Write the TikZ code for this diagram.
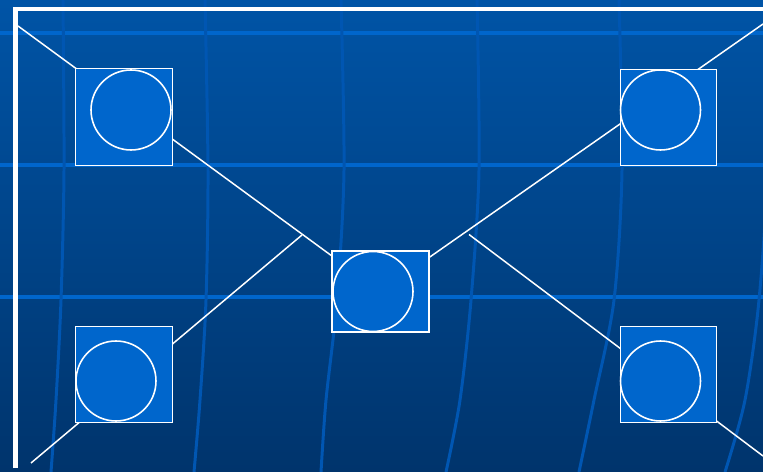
\documentclass[tikz,border=0pt]{standalone}
\definecolor{bgtop}{RGB}{0,84,166}
\definecolor{bgbot}{RGB}{0,52,108}
\definecolor{gridblue}{RGB}{0,102,204}
\definecolor{arcblue}{RGB}{0,86,178}
\definecolor{boxblue}{RGB}{0,102,204}
\pgfdeclarelayer{back}
\pgfdeclarelayer{wires}
\pgfsetlayers{back,wires,main}
\tikzset{
  station/.style={draw=white, line width=0.75pt, fill=boxblue, minimum width=1.93cm, minimum height=1.93cm, inner sep=0pt},
  disc/.style={circle, draw=white, line width=0.9pt, fill=boxblue, minimum size=1.6cm, inner sep=0pt},
  wire/.style={white, line width=0.85pt}
}
\begin{document}
\begin{tikzpicture}[x=0.02cm,y=-0.02cm]
\useasboundingbox (0,0) rectangle (763,472);

\begin{pgfonlayer}{back}
\shade[top color=bgtop, bottom color=bgbot] (0,0) rectangle (763,472);
\foreach \h in {33,165,297}
  \draw[gridblue, line width=1.9pt] (0,\h) -- (763,\h);
\foreach \a/\b/\c/\d/\e in {63/64/61/56/51, 205/208/206/200/194, 341/344/337/326/321, 477/479/471/460/446, 619/622/614/594/579, 764/767/759/745/725}
  \draw[arcblue, line width=1.7pt] plot[smooth] coordinates {(\a,0) (\b,170) (\c,300) (\d,400) (\e,472)};
\end{pgfonlayer}

\node[station] (tl) at (124,117) {};
\node[station] (tr) at (668.5,117.5) {};
\node[station, minimum width=1.94cm, minimum height=1.62cm] (hub) at (380.5,291.5) {};
\node[station] (bl) at (124,374.5) {};
\node[station] (br) at (668.5,374.5) {};

\node[disc] (tlc) at (131,110) {};
\node[disc] (trc) at (660.5,110) {};
\node[disc] (hubc) at (373,291.5) {};
\node[disc] (blc) at (116,381) {};
\node[disc] (brc) at (660.5,381) {};

\coordinate (nw) at (18,26);
\coordinate (ne) at (763,24);
\coordinate (sw) at (31,463);
\coordinate (se) at (763,456);
\coordinate (lj) at (302,235);
\coordinate (rj) at (469,234.5);

\begin{pgfonlayer}{wires}
\draw[wire] (nw) -- (hub) -- (ne);
\draw[wire] (sw) -- (lj);
\draw[wire] (rj) -- (se);
\end{pgfonlayer}

\draw[white, line width=2.8pt] (15.5,468) -- (15.5,9) -- (763,9);

\end{tikzpicture}
\end{document}
